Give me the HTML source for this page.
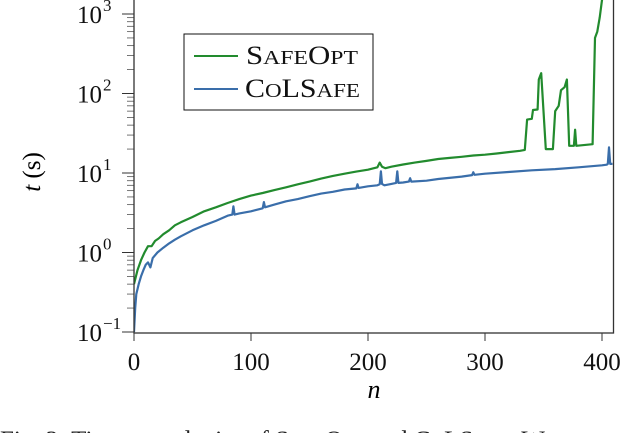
<!DOCTYPE html>
<html><head><meta charset="utf-8">
<style>
html,body{margin:0;padding:0;background:#fff;}
svg{display:block;font-family:"Liberation Serif",serif;}
</style></head>
<body>
<svg id="chart" width="640" height="433" viewBox="0 0 640 433" xmlns="http://www.w3.org/2000/svg">
<g id="axes"></g>
<g id="series"></g>
<rect x="134" y="-2" width="479.5" height="335" fill="none" stroke="#333" stroke-width="1.3"/>
<g>
<rect x="184" y="34" width="189" height="76" fill="#fff" stroke="#111" stroke-width="1"/>
<line x1="194" y1="56" x2="238" y2="56" stroke="#228b2e" stroke-width="2"/>
<text x="246" y="64" font-size="26" fill="#111" textLength="112" lengthAdjust="spacingAndGlyphs">S<tspan font-size="20">AFE</tspan>O<tspan font-size="20">PT</tspan></text>
<line x1="194" y1="89" x2="238" y2="89" stroke="#3a6eaa" stroke-width="2"/>
<text x="245" y="97" font-size="26" fill="#111" textLength="115" lengthAdjust="spacingAndGlyphs">C<tspan font-size="20">O</tspan>LS<tspan font-size="20">AFE</tspan></text>
</g>
<text x="374" y="398" font-size="26" font-style="italic" text-anchor="middle">n</text>
<text transform="translate(40,172) rotate(-90)" font-size="25" text-anchor="middle"><tspan font-style="italic">t</tspan> (s)</text>
<text x="0" y="448" font-size="25" fill="#222">Fig. 2: Time complexity of S<tspan font-size="19">AFE</tspan>O<tspan font-size="19">PT</tspan> and C<tspan font-size="19">O</tspan>LS<tspan font-size="19">AFE</tspan>. W</text>
</svg>
<script>
const xTicks = [0, 100, 200, 300, 400];
const yDecades = [-1, 0, 1, 2, 3];
const safeOptN = [0,3,6,9,12,15,18,21,25,30,35,40,50,60,70,80,90,100,110,120,130,140,150,160,170,180,190,200,208,210,212,215,220,230,240,250,260,270,280,290,300,310,320,330,334,336,340,341,345,346,348,350,352,358,360,363,365,368,370,372,376,377,378,392,394,396,398,400,402];
const safeOptT = [0.4,0.6,0.8,1.0,1.2,1.2,1.4,1.5,1.7,1.9,2.2,2.4,2.8,3.3,3.7,4.2,4.7,5.2,5.6,6.1,6.6,7.2,7.8,8.5,9.2,9.8,10.4,11,11.8,13.5,12,11.5,12,12.8,13.5,14.2,15,15.5,16,16.6,17,17.6,18.3,19,19.5,47,48,62,63,150,180,60,20,20,60,70,110,120,150,22,22,35,22,23,500,600,900,1500,1700];
const colSafeN = [0,1,2,4,6,8,10,12,14,16,20,25,30,35,40,50,60,70,80,84,85,86,90,100,110,111,112,120,130,140,150,160,170,180,190,191,192,200,208,210,211,212,214,220,224,225,226,230,235,236,237,250,260,280,289,290,291,300,320,340,360,380,400,404,405,406,407,409];
const colSafeT = [0.1,0.2,0.3,0.4,0.5,0.6,0.7,0.75,0.65,0.85,1.0,1.15,1.3,1.45,1.6,1.9,2.2,2.5,2.9,3.0,3.8,3.0,3.1,3.3,3.6,4.3,3.7,4.0,4.4,4.7,5.1,5.5,5.8,6.2,6.4,7.2,6.5,6.8,7.0,7.2,10.5,7.3,7.0,7.3,7.5,10.5,7.5,7.6,7.8,8.6,7.8,8.0,8.4,9.0,9.4,10.2,9.5,9.8,10.3,10.8,11.2,11.8,12.5,12.7,13,21,13,13];

const X0 = 134, XS = 1.17;
const Y0 = 332, DEC = 79.5;
const xScale = n => X0 + n * XS;
const yScale = t => Y0 - (Math.log10(t) + 1) * DEC;
const NS = "http://www.w3.org/2000/svg";
const axes = document.getElementById('axes');
const series = document.getElementById('series');
function mk(tag, attrs, parent){
  const el = document.createElementNS(NS, tag);
  for (const k in attrs) el.setAttribute(k, attrs[k]);
  parent.appendChild(el);
  return el;
}
xTicks.forEach(v => {
  const x = xScale(v);
  const t = mk('line', {x1:x, y1:333, x2:x, y2:341, stroke:'#333', 'stroke-width':1}, axes);
  
  
  const lb = mk('text', {x:x, y:370, 'font-size':25, 'text-anchor':'middle', fill:'#111'}, axes);
  
  
  lb.textContent = v;
});
yDecades.forEach(d => {
  const y = yScale(Math.pow(10, d));
  const t = mk('line', {x1:122, y1:y, x2:134, y2:y, stroke:'#333', 'stroke-width':1}, axes);
  
  
  const lb = mk('text', {x:102, y:y + 9, 'font-size':25, 'text-anchor':'end', fill:'#111'}, axes);
  
  
  lb.textContent = '10';
  const sup = mk('text', {x:103, y:y - 3, 'font-size':17, 'text-anchor':'start', fill:'#111'}, axes);
  
  
  sup.textContent = d < 0 ? '\u2212' + (-d) : String(d);
  if (d < 3) {
    for (let m = 2; m <= 9; m++) {
      const ym = yScale(m * Math.pow(10, d));
      const mt = mk('line', {x1:127, y1:ym, x2:134, y2:ym, stroke:'#555', 'stroke-width':0.8}, axes);
      
      
    }
  }
});
function line(ns, ts, color, name){
  const pts = ns.map((n, i) => xScale(n).toFixed(1) + ',' + yScale(ts[i]).toFixed(1)).join(' ');
  const p = mk('polyline', {points:pts, fill:'none', stroke:color, 'stroke-width':2.2, 'stroke-linejoin':'round'}, series);
  
  
}
const clip = mk('clipPath', {id:'pc'}, mk('defs', {}, document.getElementById('chart')));
mk('rect', {x:134, y:0, width:480, height:333}, clip);
series.setAttribute('clip-path', 'url(#pc)');
line(colSafeN, colSafeT, '#3a6eaa', 'colsafe-line');
line(safeOptN, safeOptT, '#228b2e', 'safeopt-line');
</script>
</body></html>
